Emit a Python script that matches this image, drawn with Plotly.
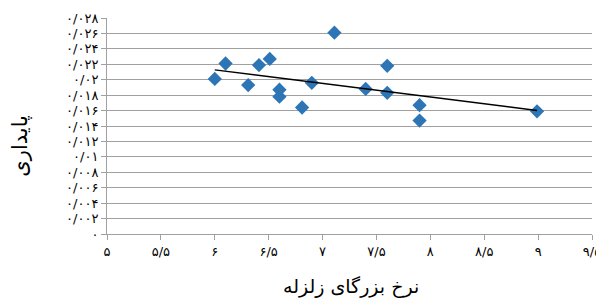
import numpy as np
import plotly.graph_objects as go

# data
x_vals = [6.00, 6.10, 6.31, 6.41, 6.51, 6.60, 6.60, 6.81, 6.90, 7.11, 7.40, 7.60, 7.60, 7.90, 7.90, 8.99]
y_vals = [0.0201, 0.0221, 0.0193, 0.0219, 0.0227, 0.0187, 0.0178, 0.0164, 0.0196, 0.0261,
          0.0188, 0.0218, 0.0183, 0.0167, 0.0147, 0.0159]

x_tickvals = [5, 5.5, 6, 6.5, 7, 7.5, 8, 8.5, 9, 9.5]
x_ticktext = ["۵", "۵/۵", "۶", "۶/۵", "۷", "۷/۵", "۸", "۸/۵", "۹", "۹/۵"]
y_tickvals = [0, 0.002, 0.004, 0.006, 0.008, 0.010, 0.012, 0.014, 0.016, 0.018, 0.020,
              0.022, 0.024, 0.026, 0.028]
y_ticktext = ["۰", "۰/۰۰۲", "۰/۰۰۴", "۰/۰۰۶", "۰/۰۰۸", "۰/۰۱", "۰/۰۱۲", "۰/۰۱۴", "۰/۰۱۶",
              "۰/۰۱۸", "۰/۰۲", "۰/۰۲۲", "۰/۰۲۴", "۰/۰۲۶", "۰/۰۲۸"]

x_title = "نرخ بزرگای زلزله"
y_title = "پایداری"

# linear trendline (least squares), spanning the data range
slope, intercept = np.polyfit(x_vals, y_vals, 1)
tx = [min(x_vals), max(x_vals)]
ty = [slope * v + intercept for v in tx]

font_family = "DejaVu Sans"

fig = go.Figure()
fig.add_trace(go.Scatter(
    x=x_vals, y=y_vals, mode="markers",
    marker=dict(symbol="diamond", size=11, color="#2E75B6", line=dict(width=0)),
    showlegend=False, hoverinfo="skip"))
fig.add_trace(go.Scatter(
    x=tx, y=ty, mode="lines",
    line=dict(color="black", width=1.5),
    showlegend=False, hoverinfo="skip"))

# page body has an 8px default margin; figure is sized so the page fits the window exactly
fig.update_layout(
    width=596, height=292,
    margin=dict(l=99, r=12, t=10, b=66, autoexpand=False),
    paper_bgcolor="white", plot_bgcolor="white",
    font=dict(family=font_family, color="black", size=13),
    xaxis=dict(
        range=[5, 9.5], tickvals=x_tickvals, ticktext=x_ticktext,
        showgrid=False, zeroline=False, automargin=False,
        showline=True, linecolor="#A0A0A0", linewidth=1,
        ticks="outside", ticklen=5, tickcolor="#A0A0A0",
        tickfont=dict(size=13, family=font_family),
    ),
    yaxis=dict(
        range=[0, 0.028], tickvals=y_tickvals, ticktext=y_ticktext,
        showgrid=True, gridcolor="#A0A0A0", gridwidth=1.3,
        zeroline=False, automargin=False,
        showline=True, linecolor="#A0A0A0", linewidth=1,
        ticks="outside", ticklen=5, tickcolor="#A0A0A0",
        tickfont=dict(size=13, family=font_family),
    ),
    annotations=[
        dict(text=x_title, xref="paper", yref="paper", x=0.503, y=-0.245,
             xanchor="center", yanchor="middle", showarrow=False,
             font=dict(size=19, family=font_family)),
        dict(text=y_title, xref="paper", yref="paper", x=-0.179, y=0.41,
             xanchor="center", yanchor="middle", showarrow=False, textangle=-90,
             font=dict(size=21, family=font_family)),
    ],
)

fig.write_html("out.html")
